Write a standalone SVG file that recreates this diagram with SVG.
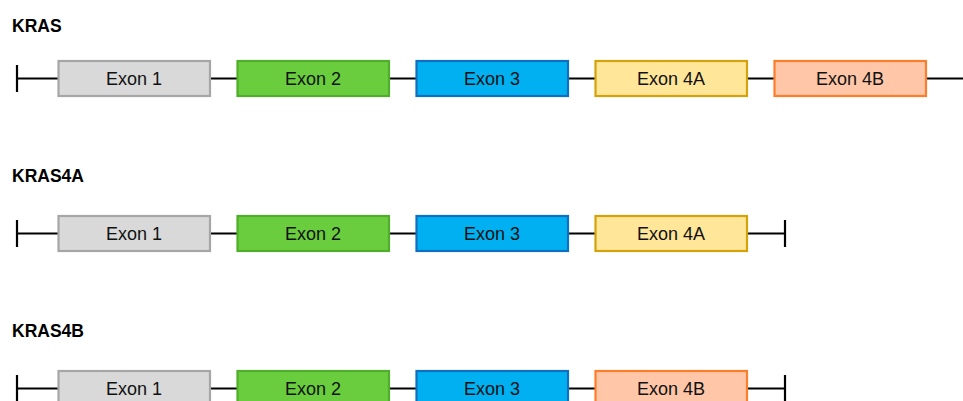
<svg xmlns="http://www.w3.org/2000/svg" width="963" height="401" viewBox="0 0 963 401">
  <style>
    .title { font-family: "Liberation Sans", Arial, sans-serif; font-weight: bold; font-size: 17.5px; fill: #000; }
    .lbl { font-family: "Liberation Sans", Arial, sans-serif; font-size: 18px; fill: #111; text-anchor: middle; dominant-baseline: central; }
    .intron { stroke: #000; stroke-width: 2.2; fill: none; }
    .ex { stroke-width: 2.2; }
    .e1 { fill: #d9d9d9; stroke: #a6a6a6; }
    .e2 { fill: #6acd3e; stroke: #4fae2c; }
    .e3 { fill: #00b0f0; stroke: #1070c0; }
    .e4a { fill: #ffe699; stroke: #d4a20a; }
    .e4b { fill: #ffc7a8; stroke: #fd7e2a; }
  </style>

  <!-- transcript names -->
  <text class="title" x="12" y="32">KRAS</text>
  <text class="title" x="12" y="181.5">KRAS4A</text>
  <text class="title" x="12" y="336.5">KRAS4B</text>

  <!-- backbone lines and end ticks -->
  <g id="connectors">
    <line class="intron" x1="17" y1="78.5" x2="963" y2="78.5"/>
    <line class="intron" x1="17" y1="65" x2="17" y2="92"/>

    <line class="intron" x1="17" y1="233.5" x2="785" y2="233.5"/>
    <line class="intron" x1="17" y1="220" x2="17" y2="247"/>
    <line class="intron" x1="785" y1="220" x2="785" y2="247"/>

    <line class="intron" x1="17" y1="388.5" x2="785" y2="388.5"/>
    <line class="intron" x1="17" y1="375" x2="17" y2="402"/>
    <line class="intron" x1="785" y1="375" x2="785" y2="402"/>
  </g>

  <!-- KRAS -->
  <g id="kras-exon1"><rect class="ex e1" x="58.5" y="61" width="151.5" height="35"/><text class="lbl" x="134" y="79">Exon 1</text></g>
  <g id="kras-exon2"><rect class="ex e2" x="237.5" y="61" width="151.5" height="35"/><text class="lbl" x="313" y="79">Exon 2</text></g>
  <g id="kras-exon3"><rect class="ex e3" x="416.5" y="61" width="151.5" height="35"/><text class="lbl" x="492" y="79">Exon 3</text></g>
  <g id="kras-exon4a"><rect class="ex e4a" x="595.5" y="61" width="151.5" height="35"/><text class="lbl" x="671" y="79">Exon 4A</text></g>
  <g id="kras-exon4b"><rect class="ex e4b" x="774.5" y="61" width="151.5" height="35"/><text class="lbl" x="850" y="79">Exon 4B</text></g>

  <!-- KRAS4A -->
  <g id="kras4a-exon1"><rect class="ex e1" x="58.5" y="216" width="151.5" height="35"/><text class="lbl" x="134" y="234">Exon 1</text></g>
  <g id="kras4a-exon2"><rect class="ex e2" x="237.5" y="216" width="151.5" height="35"/><text class="lbl" x="313" y="234">Exon 2</text></g>
  <g id="kras4a-exon3"><rect class="ex e3" x="416.5" y="216" width="151.5" height="35"/><text class="lbl" x="492" y="234">Exon 3</text></g>
  <g id="kras4a-exon4a"><rect class="ex e4a" x="595.5" y="216" width="151.5" height="35"/><text class="lbl" x="671" y="234">Exon 4A</text></g>

  <!-- KRAS4B -->
  <g id="kras4b-exon1"><rect class="ex e1" x="58.5" y="371" width="151.5" height="35"/><text class="lbl" x="134" y="389">Exon 1</text></g>
  <g id="kras4b-exon2"><rect class="ex e2" x="237.5" y="371" width="151.5" height="35"/><text class="lbl" x="313" y="389">Exon 2</text></g>
  <g id="kras4b-exon3"><rect class="ex e3" x="416.5" y="371" width="151.5" height="35"/><text class="lbl" x="492" y="389">Exon 3</text></g>
  <g id="kras4b-exon4b"><rect class="ex e4b" x="595.5" y="371" width="151.5" height="35"/><text class="lbl" x="671" y="389">Exon 4B</text></g>
</svg>
